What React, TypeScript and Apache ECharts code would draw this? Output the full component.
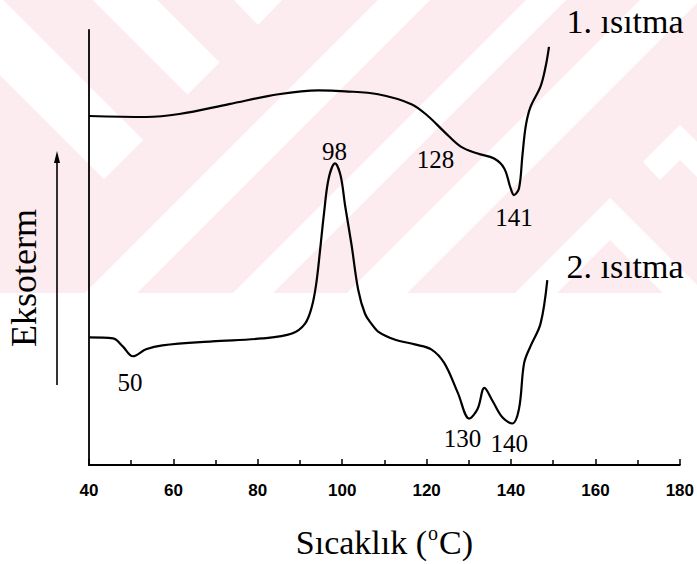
import React, { useEffect, useRef } from 'react';
import * as echarts from 'echarts';

// 1. ısıtma (first heating) — temperature (°C) and relative heat flow (arb.)
const temps1 = [40, 53.5, 61.4, 73.2, 84.9, 94.4, 100.7, 108.5, 116.4, 120.3, 124.2, 128.1, 132.1, 136.0, 138.4, 139.9, 140.7, 141.9, 142.7, 143.5, 144.6, 147.0, 148.2, 149.0];
const heat1 = [353, 352, 355, 365, 375, 379, 378, 375, 365, 353, 337, 322, 315, 310, 300, 280, 273, 280, 313, 343, 362, 383, 403, 423];

// 2. ısıtma (second heating)
const temps2 = [40, 45.7, 48.0, 50.4, 53.5, 57.4, 69.2, 81.0, 88.1, 91.2, 92.8, 93.8, 94.7, 95.7, 96.8, 98.3, 99.6, 100.7, 102.2, 103.8, 105.4, 106.9, 108.5, 112.4, 117.2, 121.1, 124.2, 127.4, 130.1, 132.1, 133.7, 135.6, 138.0, 140.3, 141.9, 143.1, 144.6, 147.0, 148.6];
const heat2 = [129, 128, 120, 110, 117, 121, 125, 128, 133, 143, 160, 182, 215, 255, 290, 305, 293, 262, 223, 177, 153, 143, 135, 127, 122, 117, 103, 73, 47, 57, 78, 65, 48, 42, 57, 103, 120, 143, 187];

// peak annotations (text, temperature, heat-flow position)
const peakTexts = ['98', '128', '141', '50', '130', '140'];
const peakT = [98.2, 122.1, 140.7, 49.7, 128.5, 139.6];
const peakY = [317, 309, 250, 83.5, 26.5, 21.5];

const seriesNames = ['1. ısıtma', '2. ısıtma'];
const xTicks = { min: 40, max: 180, step: 20 };

const PINK = '#fcecf0';
const W = '#ffffff';

export default function App() {
  const ref = useRef<HTMLDivElement>(null);
  useEffect(() => {
    const chart = echarts.init(ref.current!, null, { renderer: 'svg' });
    const serif = 'Liberation Serif, Times New Roman, serif';
    const wm = (pts: number[][], fill: string, z: number) => ({
      type: 'polygon', silent: true, z, shape: { points: pts }, style: { fill },
    });
    const option: any = {
      animation: false,
      backgroundColor: '#ffffff',
      grid: { left: 89, right: 14, top: 30, bottom: 92, containLabel: false },
      xAxis: {
        type: 'value',
        min: xTicks.min,
        max: xTicks.max,
        interval: xTicks.step,
        axisLine: { show: true, onZero: false, lineStyle: { color: '#000', width: 2 } },
        axisTick: { show: true, inside: true, length: 6, lineStyle: { color: '#000', width: 1.5 } },
        minorTick: { show: true, splitNumber: 2, length: 5, lineStyle: { color: '#000', width: 1.5 } },
        splitLine: { show: false },
        minorSplitLine: { show: false },
        axisLabel: {
          color: '#000', fontFamily: 'Liberation Sans, Arial, sans-serif', fontWeight: 'bold',
          fontSize: 17, margin: 17,
        },
        name: '{a|Sıcaklık (}{s|o}{a|C)}',
        nameLocation: 'middle',
        nameGap: 75,
        nameTextStyle: {
          verticalAlign: 'middle',
          rich: {
            a: { fontFamily: serif, fontSize: 34, color: '#000', lineHeight: 38, verticalAlign: 'bottom' },
            s: { fontFamily: serif, fontSize: 20, color: '#000', lineHeight: 38, verticalAlign: 'top', padding: [2, 1, 0, 1] },
          },
        },
      },
      yAxis: {
        type: 'value',
        min: 0,
        max: 440,
        axisLine: { show: true, onZero: false, lineStyle: { color: '#000', width: 1.8 } },
        axisTick: { show: false },
        axisLabel: { show: false },
        splitLine: { show: false },
      },
      graphic: [
        { type: 'rect', silent: true, z: -10, shape: { x: 0, y: 0, width: 697, height: 293 }, style: { fill: PINK } },
        wm([[88, -5], [152, -5], [219.5, 62.5], [187.5, 94.5]], W, -9),
        wm([[-2, -5], [143, 140], [104, 179], [-80, -5]], W, -9),
        wm([[378, 0], [430, 0], [100, 330], [48, 330]], W, -9),
        wm([[526, 0], [566, 0], [236, 330], [196, 330]], W, -9),
        wm([[640, 0], [700, 0], [370, 330], [310, 330]], W, -9),
        wm([[233, -1], [283, -1], [258, 25]], W, -9),
        wm([[515, 293], [610, 198], [705, 293], [663, 293], [610, 240], [557, 293]], W, -9),
        wm([[643, 162], [680, 125], [710, 155], [710, 190], [680, 160], [660, 180]], W, -9),
        { type: 'rect', silent: true, z: -9, shape: { x: 0, y: 293, width: 697, height: 300 }, style: { fill: W } },
        {
          type: 'text', z: 10, x: 625, y: 21,
          style: { text: seriesNames[0], font: `34px ${serif}`, fill: '#000', textAlign: 'center', textVerticalAlign: 'middle' },
        },
        {
          type: 'text', z: 10, x: 625, y: 266,
          style: { text: seriesNames[1], font: `34px ${serif}`, fill: '#000', textAlign: 'center', textVerticalAlign: 'middle' },
        },
        {
          type: 'text', z: 10, x: 24, y: 278, rotation: Math.PI / 2,
          style: { text: 'Eksoterm', font: `36px ${serif}`, fill: '#000', textAlign: 'center', textVerticalAlign: 'middle' },
        },
        { type: 'line', z: 10, shape: { x1: 57, y1: 160, x2: 57, y2: 385 }, style: { stroke: '#000', lineWidth: 1.6 } },
        { type: 'polygon', z: 10, shape: { points: [[57, 151], [54, 163], [60, 163]] }, style: { fill: '#000' } },
      ],
      series: [
        {
          name: seriesNames[0], type: 'line', data: temps1.map((t, i) => [t, heat1[i]]),
          showSymbol: false, smooth: 0.35,
          lineStyle: { color: '#000', width: 2.2 }, silent: true,
        },
        {
          name: seriesNames[1], type: 'line', data: temps2.map((t, i) => [t, heat2[i]]),
          showSymbol: false, smooth: 0.35,
          lineStyle: { color: '#000', width: 2.2 }, silent: true,
        },
        {
          name: 'peaks', type: 'scatter', symbolSize: 0, silent: true, clip: false,
          itemStyle: { opacity: 1, color: '#000' },
          data: peakTexts.map((t, i) => ({ name: t, value: [peakT[i], peakY[i]] })),
          label: {
            show: true, position: 'inside', formatter: (p: any) => p.name, opacity: 1,
            fontFamily: serif, fontSize: 25, color: '#000', textBorderWidth: 0, textBorderColor: 'transparent',
          },
        },
      ],
    };
    chart.setOption(option);
    return () => chart.dispose();
  }, []);
  return <div ref={ref} style={{ position: 'fixed', left: 0, top: 0, width: 697, height: 564 }} />;
}
